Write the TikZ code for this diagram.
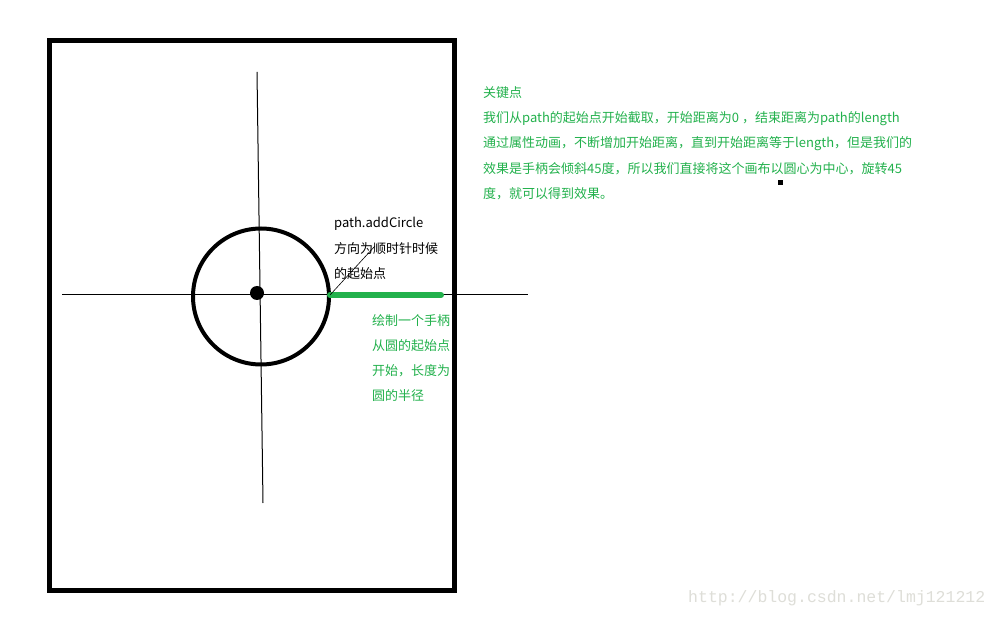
\documentclass[tikz,border=0pt]{standalone}
\usepackage{fontspec}
\usepackage{tikz}
\usetikzlibrary{positioning}
\setmainfont{Noto Sans CJK SC}
\newfontfamily\markfont{Liberation Mono}
\definecolor{handlegreen}{RGB}{34, 177, 76}
\definecolor{markgrey}{RGB}{222, 222, 216}

\tikzset{
  note/.style={anchor=west, inner sep=0pt, font=\fontsize{13}{13}\selectfont},
  greennote/.style={note, text=handlegreen}
}

\begin{document}
\begin{tikzpicture}[x=1pt, y=-1pt]
        \useasboundingbox[fill=white] (0,0) rectangle (999,617);

        % Canvas frame
        \draw[line width=5pt] (49,41) rectangle (454,590);

        % Axes
        \draw[line width=1pt] (62,295) -- (528,295);
        \draw[line width=1pt] (257,72) -- (263,503);

        % Circle and centre
        \coordinate (centre) at (261,296.5);
        \draw[line width=4pt] (centre) circle (68);
        \fill (257,293) circle (7);

        % Handle
        \coordinate (start) at (330,295);
        \coordinate (handleend) at (441,295);
        \draw[line width=6pt, handlegreen, line cap=round] (start) -- (handleend);

        % Labels for the start point
        \node[note] (addcircle) at (334,224) {path.addCircle};
        \node[note] (direction) at (334,249) {方向为顺时针时候};
        \node[note] (startpoint) at (334,274) {的起始点};
        \coordinate (tip) at (375,246);
        \draw[line width=0.6pt] (start) -- (tip);

        % Labels for the handle
        \node[greennote] (handle1) at (372,321) {绘制一个手柄};
        \node[greennote] (handle2) at (372,346) {从圆的起始点};
        \node[greennote] (handle3) at (372,371) {开始，长度为};
        \node[greennote] (handle4) at (372,396) {圆的半径};

        % Key points
        \node[greennote] (key) at (483,93) {关键点};
        \node[greennote] (key1) at (483,119) {我们从path的起始点开始截取，开始距离为0 ，结束距离为path的length};
        \node[greennote] (key2) at (483,144) {通过属性动画，不断增加开始距离，直到开始距离等于length，但是我们的};
        \node[greennote] (key3) at (483,169) {效果是手柄会倾斜45度，所以我们直接将这个画布以圆心为中心，旋转45};
        \node[greennote] (key4) at (483,194) {度，就可以得到效果。};

        % Stray mark
        \fill (777.5,180.5) rectangle (782.5,185.5);

        % Watermark
        \node[anchor=west, inner sep=0pt, text=markgrey, font=\markfont\fontsize{16.5}{17}\selectfont] (mark) at (688,598) {http://blog.csdn.net/lmj121212};
      \end{tikzpicture}
\end{document}
